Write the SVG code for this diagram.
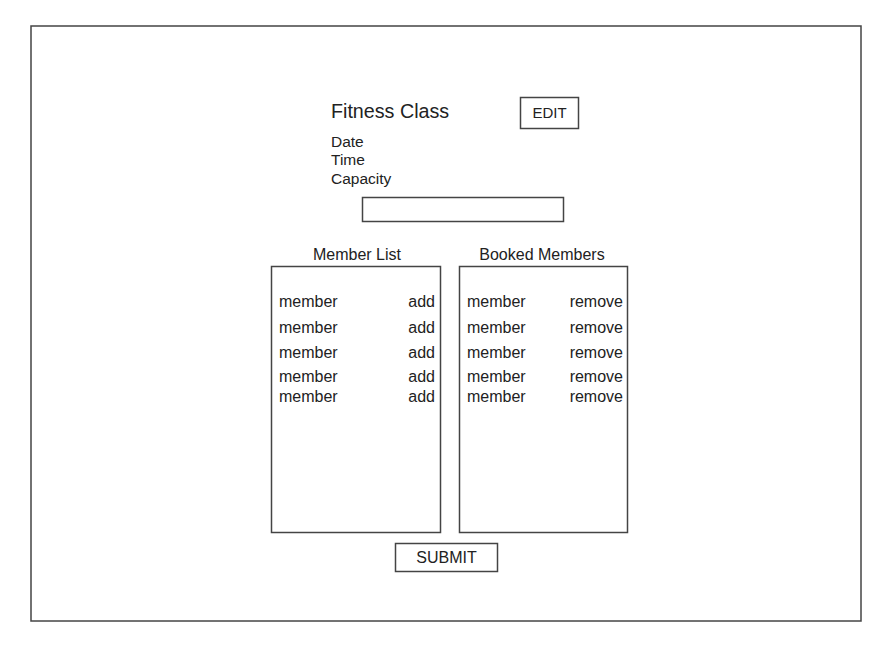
<svg xmlns="http://www.w3.org/2000/svg" width="889" height="648" viewBox="0 0 889 648">
<style>
.box{fill:#fff;stroke:#444;stroke-width:1.5}
text{font-family:"Liberation Sans",Arial,sans-serif;fill:#222}
.t{font-size:16px}
.r{text-anchor:end}
.c{text-anchor:middle}
</style>
<rect width="889" height="648" fill="#fff"/>
<g id="frame"><rect class="box" x="31" y="26" width="830" height="595"/></g>
<g id="title"><text x="331" y="118" style="font-size:19.7px">Fitness Class</text></g>
<g id="edit"><rect class="box" x="520.5" y="97.5" width="58" height="31"/><text class="t c" x="549.5" y="118" style="font-size:15px">EDIT</text></g>
<g id="info">
<text class="t" x="331" y="147" style="font-size:15.5px">Date</text>
<text class="t" x="331" y="165" style="font-size:15.5px">Time</text>
<text class="t" x="331" y="184" style="font-size:15.5px">Capacity</text>
</g>
<g id="input"><rect class="box" x="362.5" y="197.5" width="201" height="24"/></g>
<g id="memberList">
<text class="t c" x="357" y="260">Member List</text>
<rect class="box" x="271.5" y="266.5" width="169" height="266"/>
<text class="t" x="279" y="307">member</text><text class="t r" x="435" y="307">add</text>
<text class="t" x="279" y="333">member</text><text class="t r" x="435" y="333">add</text>
<text class="t" x="279" y="358">member</text><text class="t r" x="435" y="358">add</text>
<text class="t" x="279" y="382">member</text><text class="t r" x="435" y="382">add</text>
<text class="t" x="279" y="402">member</text><text class="t r" x="435" y="402">add</text>
</g>
<g id="bookedMembers">
<text class="t c" x="542" y="260">Booked Members</text>
<rect class="box" x="459.5" y="266.5" width="168" height="266"/>
<text class="t" x="467" y="307">member</text><text class="t r" x="623" y="307">remove</text>
<text class="t" x="467" y="333">member</text><text class="t r" x="623" y="333">remove</text>
<text class="t" x="467" y="358">member</text><text class="t r" x="623" y="358">remove</text>
<text class="t" x="467" y="382">member</text><text class="t r" x="623" y="382">remove</text>
<text class="t" x="467" y="402">member</text><text class="t r" x="623" y="402">remove</text>
</g>
<g id="submit"><rect class="box" x="395.5" y="543.5" width="102" height="28"/><text class="t c" x="446.5" y="563">SUBMIT</text></g>
<g id="connectors"></g>
</svg>
